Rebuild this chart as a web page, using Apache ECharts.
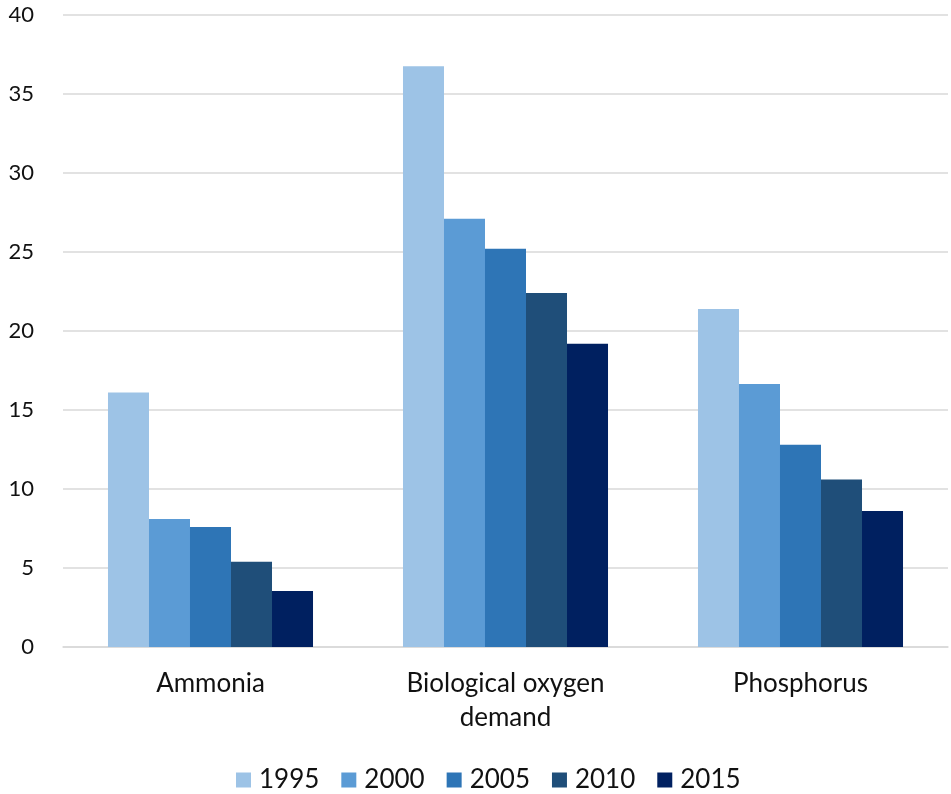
<!DOCTYPE html>
<html>
<head>
<meta charset="utf-8">
<script src="https://cdn.jsdelivr.net/npm/echarts@6/dist/echarts.min.js"></script>
<style>
  html, body { margin: 0; padding: 0; background: #fff; }
  #container { width: 951px; height: 794px; }
</style>
</head>
<body>
<div id="container"></div>
<script>
var categories = ['Ammonia', 'Biological oxygen\ndemand', 'Phosphorus'];
var years = ['1995', '2000', '2005', '2010', '2015'];
var colors = ['#9DC3E6', '#5B9BD5', '#2E75B6', '#1F4E79', '#002060'];

var v1995 = [16.1, 36.75, 21.4];
var v2000 = [8.1, 27.1, 16.65];
var v2005 = [7.6, 25.2, 12.8];
var v2010 = [5.4, 22.4, 10.6];
var v2015 = [3.55, 19.2, 8.6];
var values = [v1995, v2000, v2005, v2010, v2015];

var fontName = "Lato, 'Open Sans', sans-serif";

var element = document.getElementById('container');
var myChart = echarts.init(element);

var series = years.map(function (y, i) {
    return {
        name: y,
        type: 'bar',
        data: values[i],
        barGap: '0%',
        barCategoryGap: '30.5%',
        itemStyle: { color: colors[i] }
    };
});

var option = {
    animation: false,
    backgroundColor: '#ffffff',
    color: colors,
    grid: { left: 63, right: 3, top: 15, bottom: 147 },
    legend: {
        bottom: 1,
        left: 236,
        padding: 0,
        itemWidth: 15,
        itemHeight: 15,
        itemGap: 22,
        icon: 'rect',
        textStyle: { fontFamily: fontName, fontSize: 26, color: '#111', padding: [0, 0, 0, 3] },
        data: years
    },
    xAxis: {
        type: 'category',
        data: categories,
        axisLine: { show: true, lineStyle: { color: '#d9d9d9', width: 1.5 } },
        axisTick: { show: false },
        axisLabel: {
            margin: 20,
            fontFamily: fontName,
            fontSize: 26,
            color: '#111',
            lineHeight: 34
        }
    },
    yAxis: {
        type: 'value',
        min: 0,
        max: 40,
        interval: 5,
        axisLine: { show: false },
        axisTick: { show: false },
        splitLine: { lineStyle: { color: '#d9d9d9', width: 1.5 } },
        axisLabel: {
            margin: 29,
            fontFamily: fontName,
            fontSize: 22,
            color: '#111'
        }
    },
    series: series
};

myChart.setOption(option);
</script>
</body>
</html>
